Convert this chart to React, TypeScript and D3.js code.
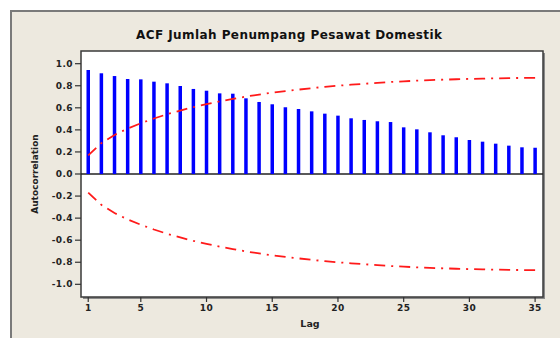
import React, { useEffect } from 'react';
import * as d3 from 'd3';

// ACF values, lags 1..35
const lags = d3.range(1, 36);
const acf = [
  0.943, 0.913, 0.888, 0.861, 0.858, 0.837, 0.822, 0.798, 0.771, 0.755,
  0.731, 0.728, 0.686, 0.653, 0.632, 0.605, 0.589, 0.568, 0.547, 0.529,
  0.505, 0.49, 0.478, 0.471, 0.423, 0.405, 0.378, 0.351, 0.333, 0.308,
  0.293, 0.275, 0.257, 0.242, 0.238,
];
// 95% confidence limit (upper; lower is the mirror)
const limit = [
  0.168, 0.28, 0.354, 0.412, 0.46, 0.503, 0.542, 0.575, 0.606, 0.633,
  0.658, 0.68, 0.702, 0.72, 0.737, 0.752, 0.765, 0.778, 0.79, 0.8,
  0.81, 0.818, 0.826, 0.834, 0.84, 0.846, 0.851, 0.855, 0.859, 0.862,
  0.865, 0.867, 0.869, 0.871, 0.872,
];
const yTicks = [1.0, 0.8, 0.6, 0.4, 0.2, 0.0, -0.2, -0.4, -0.6, -0.8, -1.0];
const xTicks = [1, 5, 10, 15, 20, 25, 30, 35];

const W = 560;
const H = 338;
const plot = { left: 81, top: 51, right: 543, bottom: 297 };
const font = '"DejaVu Sans", Verdana, sans-serif';

export default function App() {
  useEffect(() => {
    document.body.style.margin = '0';
  }, []);

  const x = d3.scaleLinear().domain([0.45, 35.6]).range([plot.left, plot.right]);
  const y = d3.scaleLinear().domain([-1.115, 1.115]).range([plot.bottom, plot.top]);

  const upper = d3.line<number>().x((_, i) => x(lags[i])).y(d => y(d))(limit);
  const lower = d3.line<number>().x((_, i) => x(lags[i])).y(d => y(-d))(limit);

  return (
    <svg width={W} height={H} style={{ display: 'block' }} fontFamily={font}>
      <rect width={W} height={H} fill="#fff" />
      {/* outer frame */}
      <rect x={11} y={11} width={W} height={H} fill="#ede9df" stroke="#7a7a7a" strokeWidth={2} />
      <text x={289} y={39} textAnchor="middle" fontSize={12} fontWeight="bold" fill="#111"
        textLength={306} lengthAdjust="spacing">
        ACF Jumlah Penumpang Pesawat Domestik
      </text>

      {/* plot area with shadow */}
      <rect x={plot.left + 2} y={plot.top + 2} width={plot.right - plot.left} height={plot.bottom - plot.top} fill="#8a8a8a" />
      <rect x={plot.left} y={plot.top} width={plot.right - plot.left} height={plot.bottom - plot.top}
        fill="#fff" stroke="#3a3a3a" strokeWidth={1.5} />

      {/* zero line */}
      <line x1={plot.left} x2={plot.right} y1={y(0)} y2={y(0)} stroke="#222" strokeWidth={1.5} />

      {/* bars */}
      {acf.map((v, i) => (
        <line key={i} x1={x(lags[i])} x2={x(lags[i])} y1={y(0)} y2={y(v)}
          stroke="#0000ff" strokeWidth={3.5} />
      ))}

      {/* confidence limits */}
      {[upper, lower].map((d, i) => (
        <path key={i} d={d ?? ''} fill="none" stroke="#ff1a1a" strokeWidth={1.8}
          strokeDasharray="11,6,2,6" />
      ))}

      {/* y axis */}
      {yTicks.map(t => (
        <g key={t}>
          <line x1={plot.left - 6} x2={plot.left} y1={y(t)} y2={y(t)} stroke="#333" strokeWidth={1.2} />
          <text x={plot.left - 8} y={y(t)} dy="0.35em" textAnchor="end" fontSize={9}
            fontWeight="bold" fill="#222" letterSpacing={0.4}>
            {t.toFixed(1)}
          </text>
        </g>
      ))}
      <text transform={`translate(38,${(plot.top + plot.bottom) / 2}) rotate(-90)`} textAnchor="middle"
        fontSize={9} fontWeight="bold" fill="#222">
        Autocorrelation
      </text>

      {/* x axis */}
      {xTicks.map(t => (
        <g key={t}>
          <line x1={x(t)} x2={x(t)} y1={plot.bottom} y2={plot.bottom + 5} stroke="#333" strokeWidth={1.2} />
          <text x={x(t)} y={plot.bottom + 14} textAnchor="middle" fontSize={9} fontWeight="bold"
            fill="#222" letterSpacing={0.4}>
            {t}
          </text>
        </g>
      ))}
      <text x={310} y={327} textAnchor="middle" fontSize={9.5} fontWeight="bold" fill="#222">Lag</text>
    </svg>
  );
}
